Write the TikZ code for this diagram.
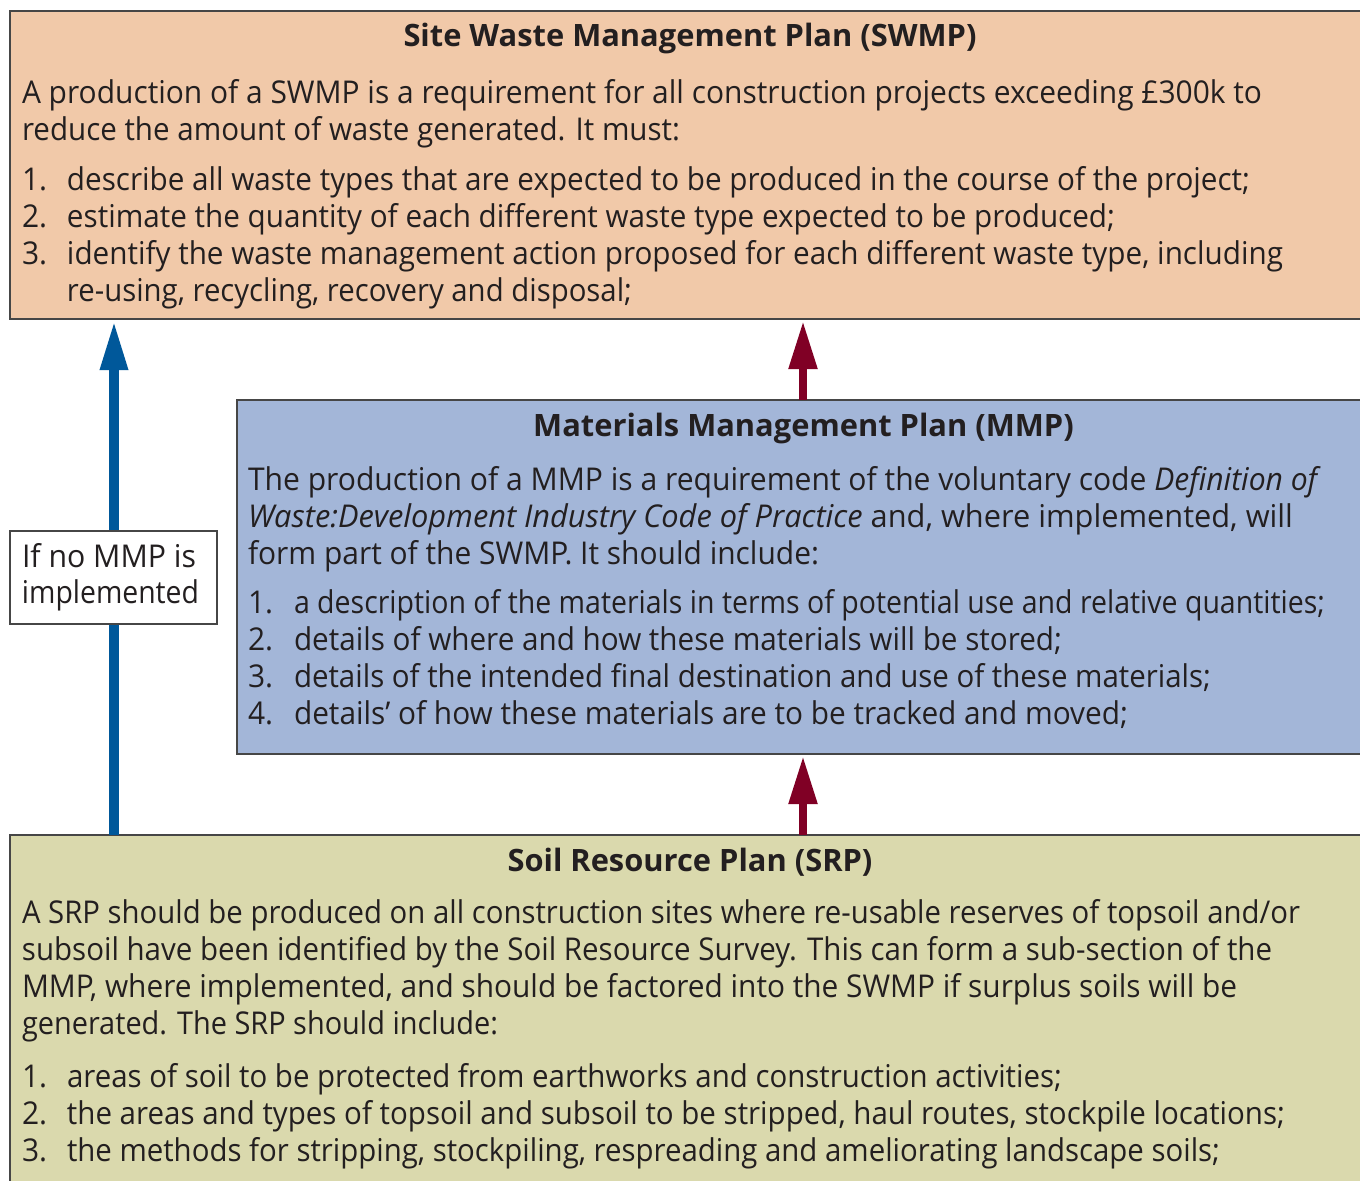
\documentclass[tikz,border=0pt]{standalone}
\usepackage{fontspec}
\usepackage{graphicx}
\usetikzlibrary{arrows.meta}
\newfontfamily\probefont{Open Sans}
\newlength\probelen
\newlength\probelenb
\settowidth\probelen{\probefont\fontsize{15.7pt}{19pt}\selectfont A production of a SWMP is a requirement for all construction projects exceeding £300k to}
\settowidth\probelenb{\probefont\bfseries\fontsize{15.4pt}{19pt}\selectfont Site Waste Management Plan (SWMP)}
\pgfmathsetmacro\bodystretch{620/\probelen}
\pgfmathsetmacro\titlestretch{286.5/\probelenb}
\edef\setmyfonts{\noexpand\setmainfont[FakeStretch=\bodystretch]{Open Sans}\noexpand\newfontfamily\noexpand\titlefont[FakeStretch=\titlestretch]{Open Sans}}
\setmyfonts
\newsavebox\fitbox
\newlength\fitlen
\newcommand\fitw[2]{\sbox\fitbox{#2}\setlength\fitlen{\wd\fitbox}\pgfmathsetmacro\fitratio{#1*0.5/\fitlen}\scalebox{\fitratio}[1]{\usebox\fitbox}}
\definecolor{swmpcol}{RGB}{241,201,169}
\definecolor{mmpcol}{RGB}{163,182,216}
\definecolor{srpcol}{RGB}{218,217,173}
\definecolor{bordercol}{RGB}{70,70,70}
\definecolor{textcol}{RGB}{35,31,32}
\definecolor{bluecol}{RGB}{0,88,154}
\definecolor{redcol}{RGB}{128,0,37}
\tikzset{
  boxs/.style={draw=bordercol, line width=0.9pt, inner sep=0pt, outer sep=0pt, anchor=north west},
  txt/.style={inner sep=0pt, outer sep=0pt, anchor=base west, text=textcol, font=\fontsize{15.7pt}{19pt}\selectfont},
  ttl/.style={inner sep=0pt, outer sep=0pt, anchor=base, text=textcol, font=\titlefont\bfseries\fontsize{15.4pt}{19pt}\selectfont},
  bluearr/.style={draw=bluecol, line width=4.6pt, -{Triangle[width=13pt,length=24.5pt]}, shorten >=1pt},
  redarr/.style={draw=redcol, line width=4.1pt, -{Triangle[width=13.5pt,length=24pt]}, shorten >=1pt}
}
\begin{document}
\begin{tikzpicture}[x=0.5pt,y=-0.5pt]
\path[use as bounding box] (0,0) rectangle (1360,1180);
\clip (0,0) rectangle (1360,1180);
\fill[white] (0,0) rectangle (1360,1180);
% boxes
\node[boxs, fill=swmpcol, minimum width=680pt, minimum height=154pt] (swmp) at (10,11) {};
\node[boxs, fill=mmpcol, minimum width=566.5pt, minimum height=177pt] (mmp) at (237,400) {};
\node[boxs, fill=srpcol, minimum width=680pt, minimum height=185pt] (srp) at (10,835) {};
% connectors
\coordinate (rx) at (803,0);
\coordinate (bx) at (114,0);
\draw[bluearr] (bx |- srp.north) -- (bx |- swmp.south);
\draw[redarr] (rx |- mmp.north) -- (rx |- swmp.south);
\draw[redarr] (rx |- srp.north) -- (rx |- mmp.south);
% label
\node[boxs, fill=white, minimum width=103.5pt, minimum height=46.5pt] (lbl) at (10,531) {};
\node[txt] (l1) at (22,567) {\fitw{174}{If no MMP is}};
\node[txt] (l2) at (22,603) {\fitw{177}{implemented}};
% SWMP text
\node[ttl] (st) at (690,46) {Site Waste Management Plan (SWMP)};
\node[txt] (s1) at (22,103) {\fitw{1240}{A production of a SWMP is a requirement for all construction projects exceeding £300k to}};
\node[txt] (s2) at (22,140) {\fitw{658}{reduce the amount of waste generated. It must:}};
\node[txt] (s3n) at (22,190) {1.};
\node[txt] (s3) at (67,190) {\fitw{1183}{describe all waste types that are expected to be produced in the course of the project;}};
\node[txt] (s4n) at (22,227) {2.};
\node[txt] (s4) at (67,227) {\fitw{1048}{estimate the quantity of each different waste type expected to be produced;}};
\node[txt] (s5n) at (22,264) {3.};
\node[txt] (s5) at (67,264) {\fitw{1216}{identify the waste management action proposed for each different waste type, including}};
\node[txt] (s6) at (67,301) {\fitw{565}{re-using, recycling, recovery and disposal;}};
% MMP text
\node[ttl] (mt) at (803.5,436) {Materials Management Plan (MMP)};
\node[txt] (m1) at (248,490) {\fitw{1073}{The production of a MMP is a requirement of the voluntary code \textit{Definition of}}};
\node[txt] (m2) at (248,527) {\fitw{1045}{\textit{Waste:Development Industry Code of Practice} and, where implemented, will}};
\node[txt] (m3) at (248,564) {\fitw{571}{form part of the SWMP. It should include:}};
\node[txt] (m4n) at (248,613) {1.};
\node[txt] (m4) at (294,613) {\fitw{1031}{a description of the materials in terms of potential use and relative quantities;}};
\node[txt] (m5n) at (248,650) {2.};
\node[txt] (m5) at (294,650) {\fitw{768}{details of where and how these materials will be stored;}};
\node[txt] (m6n) at (248,687) {3.};
\node[txt] (m6) at (294,687) {\fitw{917}{details of the intended final destination and use of these materials;}};
\node[txt] (m7n) at (248,724) {4.};
\node[txt] (m7) at (294,724) {\fitw{834}{details’ of how these materials are to be tracked and moved;}};
% SRP text
\node[ttl] (rt) at (690,871) {Soil Resource Plan (SRP)};
\node[txt] (r1) at (22,923) {\fitw{1278}{A SRP should be produced on all construction sites where re-usable reserves of topsoil and/or}};
\node[txt] (r2) at (22,960) {\fitw{1250}{subsoil have been identified by the Soil Resource Survey. This can form a sub-section of the}};
\node[txt] (r3) at (22,997) {\fitw{1215}{MMP, where implemented, and should be factored into the SWMP if surplus soils will be}};
\node[txt] (r4) at (22,1034) {\fitw{476}{generated. The SRP should include:}};
\node[txt] (r5n) at (22,1087) {1.};
\node[txt] (r5) at (67,1087) {\fitw{995}{areas of soil to be protected from earthworks and construction activities;}};
\node[txt] (r6n) at (22,1124) {2.};
\node[txt] (r6) at (67,1124) {\fitw{1218}{the areas and types of topsoil and subsoil to be stripped, haul routes, stockpile locations;}};
\node[txt] (r7n) at (22,1161) {3.};
\node[txt] (r7) at (67,1161) {\fitw{1153}{the methods for stripping, stockpiling, respreading and ameliorating landscape soils;}};
\end{tikzpicture}
\end{document}
